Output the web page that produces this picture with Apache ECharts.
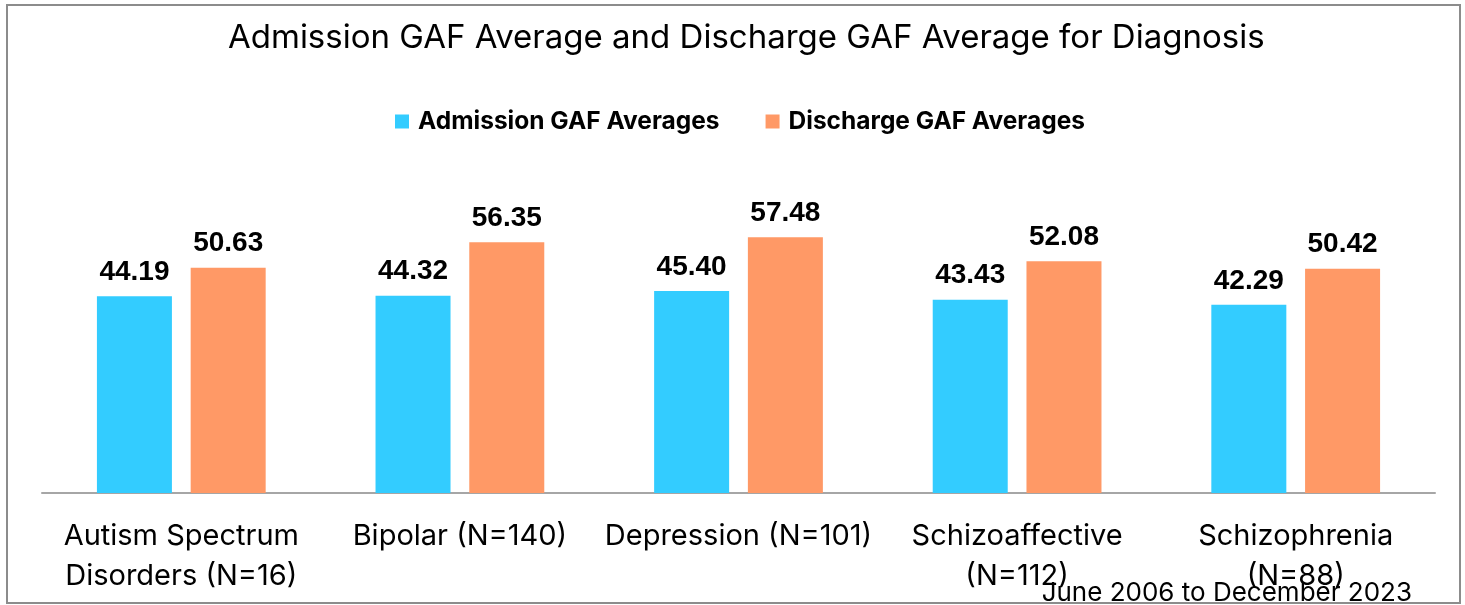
<!DOCTYPE html>
<html>
<head>
<meta charset="utf-8">
<script src="https://cdn.jsdelivr.net/npm/echarts@6/dist/echarts.min.js"></script>
<style>
  html, body { margin: 0; padding: 0; background: #fff; }
  #chart { width: 1465px; height: 605px; }
</style>
</head>
<body>
<div id="chart"></div>
<script>
var categories = [
    'Autism Spectrum\nDisorders (N=16)',
    'Bipolar (N=140)',
    'Depression (N=101)',
    'Schizoaffective\n(N=112)',
    'Schizophrenia\n(N=88)'
];
var admissionAvg = [44.19, 44.32, 45.40, 43.43, 42.29];
var dischargeAvg = [50.63, 56.35, 57.48, 52.08, 50.42];

var fontName = 'Inter';
var myChart = echarts.init(document.getElementById('chart'));

// 数值标签
var valueLabel = {
    show: true,
    position: 'top',
    distance: 10,
    color: '#000',
    fontSize: 28,
    fontWeight: 'bold',
    fontFamily: 'Liberation Sans',
    formatter: function (p) { return p.value.toFixed(2); }
};

var option = {
    animation: false,
    textStyle: { fontFamily: fontName },
    title: [{
        text: 'Admission GAF Average and Discharge GAF Average for Diagnosis',
        left: 223,
        top: 17,
        textStyle: { color: '#000', fontSize: 33, fontWeight: 'normal', fontFamily: fontName }
    }, {
        text: 'June 2006 to December 2023',
        right: 48,
        top: 575,
        textStyle: { color: '#000', fontSize: 26, fontWeight: 'normal', fontFamily: fontName }
    }],
    legend: {
        top: 104,
        left: 390,
        itemWidth: 14,
        itemHeight: 14,
        itemGap: 46,
        icon: 'rect',
        textStyle: { color: '#000', fontSize: 24.5, fontWeight: 'bold', fontFamily: fontName, padding: [0, 0, 0, 4] }
    },
    grid: { left: 42, right: 30, top: 137, bottom: 112 },
    xAxis: {
        type: 'category',
        data: categories,
        axisLine: { lineStyle: { color: '#a6a6a6', width: 2 } },
        axisTick: { show: false },
        axisLabel: {
            color: '#000',
            fontSize: 29,
            lineHeight: 40,
            margin: 23,
            interval: 0,
            fontFamily: fontName
        }
    },
    yAxis: {
        type: 'value',
        min: 0,
        max: 80,
        show: false,
        splitLine: { show: false }
    },
    graphic: [{
        type: 'rect',
        shape: { x: 7, y: 5, width: 1453, height: 598 },
        style: { fill: 'none', stroke: '#8c8c8c', lineWidth: 2 },
        z: -10
    }],
    series: [{
        name: 'Admission GAF Averages',
        type: 'bar',
        data: admissionAvg,
        barWidth: 75,
        barGap: '25%',
        itemStyle: { color: '#33ccff' },
        label: valueLabel
    }, {
        name: 'Discharge GAF Averages',
        type: 'bar',
        data: dischargeAvg,
        barWidth: 75,
        barGap: '25%',
        itemStyle: { color: '#ff9966' },
        label: valueLabel
    }]
};

myChart.setOption(option);
window.addEventListener('resize', function () {
    myChart.resize();
});
</script>
</body>
</html>
